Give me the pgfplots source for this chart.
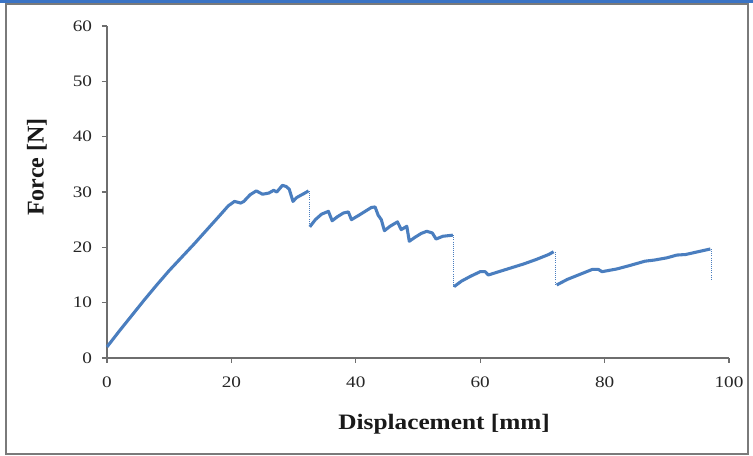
\documentclass[border=0pt]{standalone}
\usepackage{fontspec}
\setmainfont{Liberation Serif}
\newfontfamily\tickfont[FakeStretch=1.2]{Liberation Serif}
\newfontfamily\labelfont[FakeStretch=1.15]{Liberation Serif}
\usepackage{pgfplots}
\pgfplotsset{compat=1.18}
\definecolor{lineblue}{HTML}{4A7EBF}
\definecolor{framegray}{HTML}{7A7A7A}
\definecolor{topblue}{HTML}{3A73C4}
\definecolor{axgray}{HTML}{6E6E6E}
\begin{document}
\begin{tikzpicture}
\path[use as bounding box] (-80.25pt,-73.5pt) rectangle (484.5pt,268.5pt);
\fill[white] (-80.25pt,-73.5pt) rectangle (484.5pt,268.5pt);
\begin{axis}[
  at={(0,0)}, anchor=south west,
  scale only axis,
  width=466.5pt, height=249pt,
  xmin=0, xmax=100, ymin=0, ymax=60,
  xtick={0,20,...,100}, ytick={0,10,...,60},
  axis lines=left,
  axis line style={-, axgray, line width=0.9pt},
  tick align=outside,
  major tick length=3.75pt,
  tick style={axgray, line width=0.8pt},
  /pgf/number format/assume math mode=true,
  ticklabel style={font=\tickfont\fontsize{12}{14}\selectfont, black!85},
  xticklabel style={yshift=-7pt},
  yticklabel style={xshift=-4pt},
  xlabel={Displacement [mm]},
  ylabel={Force [N]},
  xlabel style={font=\labelfont\fontsize{16.5}{20}\selectfont\bfseries, black!90,
    at={(axis description cs:0.542,-0.2)}, anchor=center},
  ylabel style={font=\fontsize{18}{20}\selectfont\bfseries, black!90,
    at={(axis description cs:-0.1125,0.575)}, anchor=center},
  clip=false,
]
% main curve segments
\addplot[lineblue, line width=2.3pt, line join=round] coordinates {
(0,2.0)(2,4.9)(4,7.7)(6,10.5)(8,13.2)(10,15.8)(12,18.2)(14,20.6)(16,23.1)(18,25.6)(19.5,27.5)(20.5,28.3)(21.5,28.0)(22,28.3)(23,29.5)(24,30.2)(25,29.6)(26,29.8)(26.8,30.3)(27.3,30.0)(28.2,31.2)(28.8,31.0)(29.3,30.5)(29.9,28.3)(30.5,29.0)(31.3,29.5)(31.8,29.8)(32.4,30.2)
};
\addplot[lineblue, line width=2.3pt, line join=round] coordinates {
(32.6,23.7)(33.5,25.0)(34.5,26.0)(35.6,26.5)(36.2,24.8)(37.0,25.5)(38.0,26.2)(38.8,26.4)(39.3,25.0)(40.5,25.8)(41.5,26.5)(42.5,27.2)(43.1,27.3)(43.6,25.8)(44.1,25.0)(44.6,23.0)(45.5,23.8)(46.7,24.6)(47.3,23.2)(48.2,23.8)(48.6,21.1)(49.5,21.8)(50.5,22.5)(51.4,22.9)(52.3,22.6)(52.9,21.5)(54.0,22.0)(55.6,22.2)
};
\addplot[lineblue, line width=2.3pt, line join=round] coordinates {
(55.8,12.9)(57,13.9)(58.5,14.8)(60,15.6)(60.8,15.6)(61.3,15.0)(63,15.6)(65,16.3)(67,17.0)(69,17.8)(71,18.7)(71.8,19.2)
};
\addplot[lineblue, line width=2.3pt, line join=round] coordinates {
(72.3,13.2)(74,14.2)(76,15.1)(78,16.0)(79,16.0)(79.6,15.6)(82,16.1)(84,16.7)(86.5,17.5)(88,17.7)(90,18.1)(91.6,18.6)(93,18.7)(95,19.2)(97,19.7)
};
% drops
\addplot[lineblue, line width=0.6pt, densely dotted] coordinates {(32.5,30.2)(32.5,23.7)};
\addplot[lineblue, line width=0.6pt, densely dotted] coordinates {(55.7,22.2)(55.7,12.9)};
\addplot[lineblue, line width=0.6pt, densely dotted] coordinates {(72.1,19.2)(72.1,13.2)};
\addplot[lineblue, line width=0.6pt, densely dotted] coordinates {(97.2,19.7)(97.2,14.1)};
\end{axis}
\draw[framegray, line width=1.2pt] (-75.75pt,-72pt) rectangle (480.75pt,265.5pt);
\fill[topblue] (-80.25pt,266.25pt) rectangle (484.5pt,268.5pt);
\end{tikzpicture}
\end{document}
